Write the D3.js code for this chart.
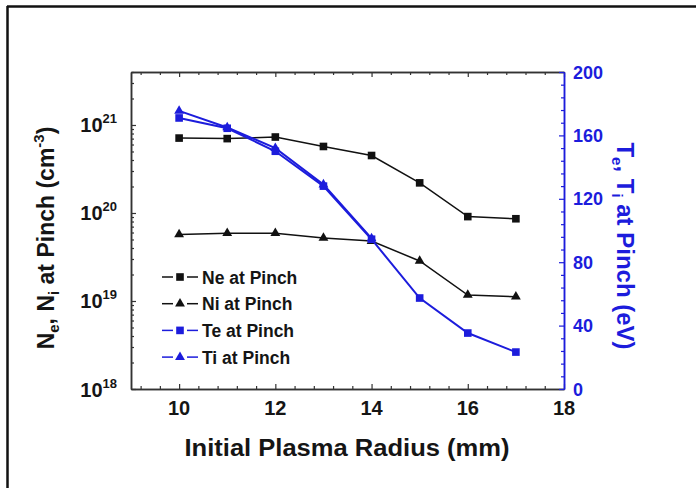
<!DOCTYPE html>
<html>
<head>
<meta charset="utf-8">
<script src="https://cdn.jsdelivr.net/npm/d3@7"></script>
<style>
  body { margin: 0; background: #fff; }
  svg { display: block; font-family: "Liberation Sans", Arial, sans-serif; font-weight: bold; }
</style>
</head>
<body>
<div id="chart"></div>
<script>
/// Data ///
var radius = [10, 11, 12, 13, 14, 15, 16, 17];
var neAtPinch = [7.1e20, 7.0e20, 7.3e20, 5.7e20, 4.5e20, 2.2e20, 9.1e19, 8.6e19];
var niAtPinch = [5.7e19, 5.9e19, 5.9e19, 5.2e19, 4.8e19, 2.85e19, 1.17e19, 1.12e19];
var teAtPinch = [171, 164.5, 150, 128, 94.5, 57.4, 35.3, 23.3];
var tiRadius = [10, 11, 12, 13, 14];
var tiAtPinch = [175.5, 165, 152, 129, 95];

var xTicks = [10, 12, 14, 16, 18];
var leftTicks = [1e18, 1e19, 1e20, 1e21];
var rightTicks = [0, 40, 80, 120, 160, 200];

var blue = "#1c1cdc";

/// Area ///
var svgWidth = 696, svgHeight = 488;
var margin = { top: 72, right: 132, bottom: 99, left: 131 };
var width = svgWidth - margin.left - margin.right;
var height = svgHeight - margin.top - margin.bottom;

var svg = d3.select("#chart").append("svg")
    .attr("width", svgWidth)
    .attr("height", svgHeight);

// frame lines (top and left only)
svg.append("line").attr("x1", 7).attr("y1", 6.5).attr("x2", 696).attr("y2", 6.5)
    .attr("stroke", "#111").attr("stroke-width", 2.5);
svg.append("line").attr("x1", 7.5).attr("y1", 6).attr("x2", 7.5).attr("y2", 488)
    .attr("stroke", "#111").attr("stroke-width", 2.5);

var g = svg.append("g").attr("transform", `translate(${margin.left}, ${margin.top})`);

/// Scales ///
var x = d3.scaleLinear().domain([9, 18]).range([0, width]);
var yL = d3.scaleLog().domain([1e18, 4e21]).range([height, 0]);
var yR = d3.scaleLinear().domain([0, 200]).range([height, 0]);

/// Minor ticks ///
var xMinor = d3.range(9.2, 18, 0.4).filter(v => Math.abs(v / 2 - Math.round(v / 2)) > 0.01);
var leftMinor = [];
[1e18, 1e19, 1e20, 1e21].forEach(function (d) {
    for (var k = 2; k <= 9; k++) if (d * k <= 4e21) leftMinor.push(d * k);
});
var rightMinor = d3.range(8, 200, 8).filter(v => v % 40 !== 0);

function styleAxis(sel, color) {
    sel.select(".domain").attr("stroke", color).attr("stroke-width", 1.5);
    sel.selectAll(".tick line").attr("stroke", color).attr("stroke-width", 1.2);
    sel.selectAll("text").remove();
}

function addAxis(axis, tx, ty, color) {
    var a = g.append("g").attr("transform", `translate(${tx}, ${ty})`).call(axis);
    styleAxis(a, color);
}

// bottom and top axes
addAxis(d3.axisBottom(x).tickValues(xTicks).tickSize(-5).tickSizeOuter(0), 0, height, "#333");
addAxis(d3.axisBottom(x).tickValues(xMinor).tickSize(-3).tickSizeOuter(0), 0, height, "#333");
addAxis(d3.axisTop(x).tickValues(xTicks).tickSize(-5).tickSizeOuter(0), 0, 0, "#333");
addAxis(d3.axisTop(x).tickValues(xMinor).tickSize(-3).tickSizeOuter(0), 0, 0, "#333");

// left log axis
addAxis(d3.axisLeft(yL).tickValues(leftTicks).tickSize(-5).tickSizeOuter(0), 0, 0, "#333");
addAxis(d3.axisLeft(yL).tickValues(leftMinor).tickSize(-3).tickSizeOuter(0), 0, 0, "#333");

// right axis
addAxis(d3.axisRight(yR).tickValues(rightTicks).tickSize(-5).tickSizeOuter(0), width, 0, blue);
addAxis(d3.axisRight(yR).tickValues(rightMinor).tickSize(-3).tickSizeOuter(0), width, 0, blue);

/// Tick labels ///
g.selectAll(".xlab").data(xTicks).enter().append("text")
    .attr("x", d => x(d)).attr("y", height + 26)
    .attr("text-anchor", "middle").attr("font-size", 20).attr("fill", "#151515")
    .text(d => d);

leftTicks.forEach(function (d) {
    var t = g.append("text")
        .attr("x", -14).attr("y", yL(d) + 7.5)
        .attr("text-anchor", "end").attr("font-size", 20).attr("fill", "#151515");
    t.append("tspan").text("10");
    t.append("tspan").attr("dy", -9).attr("font-size", 13).text(Math.round(Math.log10(d)));
});

g.selectAll(".rlab").data(rightTicks).enter().append("text")
    .attr("x", width + 9).attr("y", d => yR(d) + 6.5)
    .attr("font-size", 18).attr("fill", blue)
    .text(d => d);

/// Axis titles ///
g.append("text")
    .attr("x", 347 - margin.left).attr("y", height + 67)
    .attr("text-anchor", "middle").attr("font-size", 23).attr("fill", "#151515")
    .attr("textLength", 325).attr("lengthAdjust", "spacingAndGlyphs")
    .text("Initial Plasma Radius (mm)");

var lt = svg.append("text")
    .attr("transform", "translate(54, 238) rotate(-90)")
    .attr("text-anchor", "middle").attr("font-size", 23).attr("fill", "#151515");
lt.append("tspan").text("N");
lt.append("tspan").attr("dy", 5).attr("font-size", 15).text("e");
lt.append("tspan").attr("dy", -5).text(", N");
lt.append("tspan").attr("dy", 5).attr("font-size", 15).text("i");
lt.append("tspan").attr("dy", -5).text(" at Pinch (cm");
lt.append("tspan").attr("dy", -10).attr("font-size", 15).text("-3");
lt.append("tspan").attr("dy", 10).text(")");

var rt = svg.append("text")
    .attr("transform", "translate(617, 246) rotate(90)")
    .attr("text-anchor", "middle").attr("font-size", 24).attr("fill", blue);
rt.append("tspan").text("T");
rt.append("tspan").attr("dy", 5).attr("font-size", 15).text("e");
rt.append("tspan").attr("dy", -5).text(", T");
rt.append("tspan").attr("dy", 5).attr("font-size", 15).text("i");
rt.append("tspan").attr("dy", -5).text(" at Pinch (eV)");

/// Series ///
var tri = d3.symbol().type(d3.symbolTriangle).size(42);
var sq = d3.symbol().type(d3.symbolSquare).size(58);

function drawSeries(xs, ys, yScale, color, symbol, lw) {
    var pts = xs.map((r, i) => [x(r), yScale(ys[i])]);
    g.append("path").datum(pts)
        .attr("d", d3.line())
        .attr("fill", "none").attr("stroke", color).attr("stroke-width", lw);
    g.selectAll(null).data(pts).enter().append("path")
        .attr("transform", d => `translate(${d[0]}, ${d[1]})`)
        .attr("d", symbol)
        .attr("fill", color);
}

drawSeries(radius, neAtPinch, yL, "#111", sq, 1.5);
drawSeries(radius, niAtPinch, yL, "#111", tri, 1.5);
drawSeries(tiRadius, tiAtPinch, yR, blue, tri, 2);
drawSeries(radius, teAtPinch, yR, blue, sq, 2);

/// Legend ///
var legendItems = [
    { label: "Ne at Pinch", color: "#111", symbol: sq },
    { label: "Ni at Pinch", color: "#111", symbol: tri },
    { label: "Te at Pinch", color: blue, symbol: sq },
    { label: "Ti at Pinch", color: blue, symbol: tri }
];
var legend = svg.append("g").attr("transform", "translate(162, 277)");
legendItems.forEach(function (item, i) {
    var row = legend.append("g").attr("transform", `translate(0, ${i * 26.7})`);
    row.append("line").attr("x1", 0).attr("x2", 11).attr("y1", 0).attr("y2", 0)
        .attr("stroke", item.color).attr("stroke-width", 1.5);
    row.append("line").attr("x1", 25).attr("x2", 36).attr("y1", 0).attr("y2", 0)
        .attr("stroke", item.color).attr("stroke-width", 1.5);
    row.append("path").attr("transform", "translate(18, 0)")
        .attr("d", item.symbol).attr("fill", item.color);
    row.append("text").attr("x", 40).attr("y", 6.5)
        .attr("font-size", 17.5).attr("fill", "#151515").text(item.label);
});
</script>
</body>
</html>
